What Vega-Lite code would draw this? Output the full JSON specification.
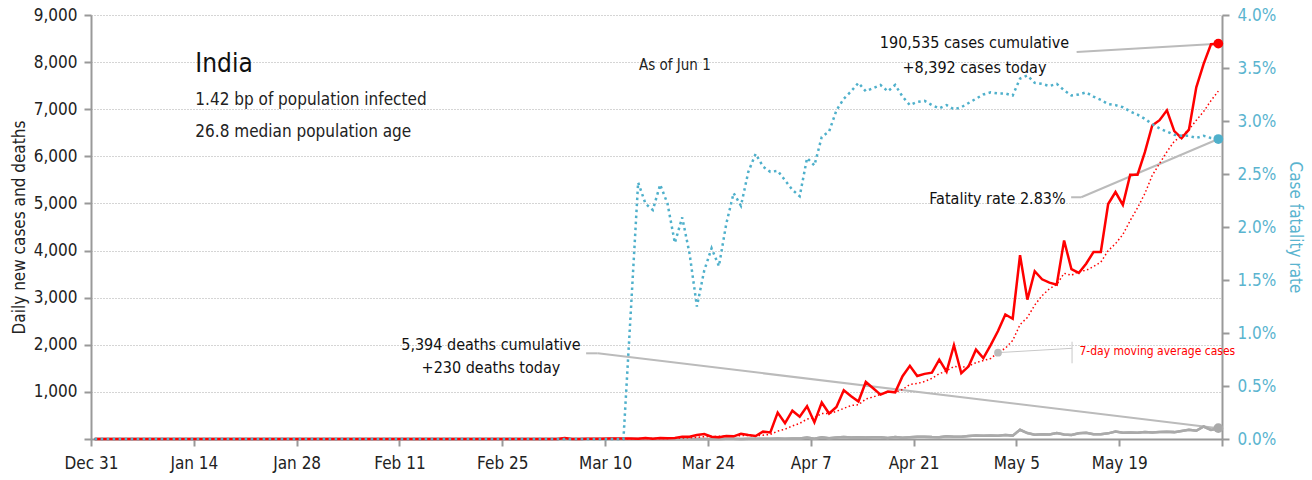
{
"$schema": "https://vega.github.io/schema/vega-lite/v6.json",
"width": 1131, "height": 424,
"autosize": {"type": "none"},
"padding": {"left": 91, "top": 15, "right": 90, "bottom": 41},
"background": "#ffffff",
"config": {
  "font": "DejaVu Sans Condensed, Roboto Condensed, Roboto, sans-serif",
  "view": {"stroke": null},
  "axis": {"domainColor": "#999999", "domainWidth": 2, "tickColor": "#999999", "tickWidth": 2, "tickSize": 7,
           "labelFontSize": 17, "labelColor": "#222222", "titleFontWeight": "normal", "grid": false}
},
"data": {"format": {"parse": {"d": "date"}}, "values": [
{"d":"2019-12-31 12:00","c":0,"a":0,"k":0,"r":0},
{"d":"2020-01-01 12:00","c":0,"a":0,"k":0,"r":0},
{"d":"2020-01-02 12:00","c":0,"a":0,"k":0,"r":0},
{"d":"2020-01-03 12:00","c":0,"a":0,"k":0,"r":0},
{"d":"2020-01-04 12:00","c":0,"a":0,"k":0,"r":0},
{"d":"2020-01-05 12:00","c":0,"a":0,"k":0,"r":0},
{"d":"2020-01-06 12:00","c":0,"a":0,"k":0,"r":0},
{"d":"2020-01-07 12:00","c":0,"a":0,"k":0,"r":0},
{"d":"2020-01-08 12:00","c":0,"a":0,"k":0,"r":0},
{"d":"2020-01-09 12:00","c":0,"a":0,"k":0,"r":0},
{"d":"2020-01-10 12:00","c":0,"a":0,"k":0,"r":0},
{"d":"2020-01-11 12:00","c":0,"a":0,"k":0,"r":0},
{"d":"2020-01-12 12:00","c":0,"a":0,"k":0,"r":0},
{"d":"2020-01-13 12:00","c":0,"a":0,"k":0,"r":0},
{"d":"2020-01-14 12:00","c":0,"a":0,"k":0,"r":0},
{"d":"2020-01-15 12:00","c":0,"a":0,"k":0,"r":0},
{"d":"2020-01-16 12:00","c":0,"a":0,"k":0,"r":0},
{"d":"2020-01-17 12:00","c":0,"a":0,"k":0,"r":0},
{"d":"2020-01-18 12:00","c":0,"a":0,"k":0,"r":0},
{"d":"2020-01-19 12:00","c":0,"a":0,"k":0,"r":0},
{"d":"2020-01-20 12:00","c":0,"a":0,"k":0,"r":0},
{"d":"2020-01-21 12:00","c":0,"a":0,"k":0,"r":0},
{"d":"2020-01-22 12:00","c":0,"a":0,"k":0,"r":0},
{"d":"2020-01-23 12:00","c":0,"a":0,"k":0,"r":0},
{"d":"2020-01-24 12:00","c":0,"a":0,"k":0,"r":0},
{"d":"2020-01-25 12:00","c":0,"a":0,"k":0,"r":0},
{"d":"2020-01-26 12:00","c":0,"a":0,"k":0,"r":0},
{"d":"2020-01-27 12:00","c":0,"a":0,"k":0,"r":0},
{"d":"2020-01-28 12:00","c":0,"a":0,"k":0,"r":0},
{"d":"2020-01-29 12:00","c":0,"a":0,"k":0,"r":0},
{"d":"2020-01-30 12:00","c":1,"a":0.1,"k":0,"r":0},
{"d":"2020-01-31 12:00","c":0,"a":0.1,"k":0,"r":0},
{"d":"2020-02-01 12:00","c":0,"a":0.1,"k":0,"r":0},
{"d":"2020-02-02 12:00","c":1,"a":0.3,"k":0,"r":0},
{"d":"2020-02-03 12:00","c":1,"a":0.4,"k":0,"r":0},
{"d":"2020-02-04 12:00","c":0,"a":0.4,"k":0,"r":0},
{"d":"2020-02-05 12:00","c":0,"a":0.4,"k":0,"r":0},
{"d":"2020-02-06 12:00","c":0,"a":0.3,"k":0,"r":0},
{"d":"2020-02-07 12:00","c":0,"a":0.3,"k":0,"r":0},
{"d":"2020-02-08 12:00","c":0,"a":0.3,"k":0,"r":0},
{"d":"2020-02-09 12:00","c":0,"a":0.1,"k":0,"r":0},
{"d":"2020-02-10 12:00","c":0,"a":0,"k":0,"r":0},
{"d":"2020-02-11 12:00","c":0,"a":0,"k":0,"r":0},
{"d":"2020-02-12 12:00","c":0,"a":0,"k":0,"r":0},
{"d":"2020-02-13 12:00","c":0,"a":0,"k":0,"r":0},
{"d":"2020-02-14 12:00","c":0,"a":0,"k":0,"r":0},
{"d":"2020-02-15 12:00","c":0,"a":0,"k":0,"r":0},
{"d":"2020-02-16 12:00","c":0,"a":0,"k":0,"r":0},
{"d":"2020-02-17 12:00","c":0,"a":0,"k":0,"r":0},
{"d":"2020-02-18 12:00","c":0,"a":0,"k":0,"r":0},
{"d":"2020-02-19 12:00","c":0,"a":0,"k":0,"r":0},
{"d":"2020-02-20 12:00","c":0,"a":0,"k":0,"r":0},
{"d":"2020-02-21 12:00","c":0,"a":0,"k":0,"r":0},
{"d":"2020-02-22 12:00","c":0,"a":0,"k":0,"r":0},
{"d":"2020-02-23 12:00","c":0,"a":0,"k":0,"r":0},
{"d":"2020-02-24 12:00","c":0,"a":0,"k":0,"r":0},
{"d":"2020-02-25 12:00","c":0,"a":0,"k":0,"r":0},
{"d":"2020-02-26 12:00","c":0,"a":0,"k":0,"r":0},
{"d":"2020-02-27 12:00","c":0,"a":0,"k":0,"r":0},
{"d":"2020-02-28 12:00","c":0,"a":0,"k":0,"r":0},
{"d":"2020-02-29 12:00","c":0,"a":0,"k":0,"r":0},
{"d":"2020-03-01 12:00","c":0,"a":0,"k":0,"r":0},
{"d":"2020-03-02 12:00","c":2,"a":0.3,"k":0,"r":0},
{"d":"2020-03-03 12:00","c":1,"a":0.4,"k":0,"r":0},
{"d":"2020-03-04 12:00","c":22,"a":3.6,"k":0,"r":0},
{"d":"2020-03-05 12:00","c":1,"a":3.7,"k":0,"r":0},
{"d":"2020-03-06 12:00","c":1,"a":3.9,"k":0,"r":0},
{"d":"2020-03-07 12:00","c":3,"a":4.3,"k":0,"r":0},
{"d":"2020-03-08 12:00","c":5,"a":5.0,"k":0,"r":0},
{"d":"2020-03-09 12:00","c":4,"a":5.3,"k":0,"r":0},
{"d":"2020-03-10 12:00","c":10,"a":6.6,"k":0,"r":0},
{"d":"2020-03-11 12:00","c":12,"a":5.1,"k":0,"r":0},
{"d":"2020-03-12 12:00","c":11,"a":6.6,"k":0,"r":0},
{"d":"2020-03-13 12:00","c":8,"a":7.6,"k":1,"r":1.2},
{"d":"2020-03-14 12:00","c":3,"a":7.6,"k":1,"r":2.42},
{"d":"2020-03-15 12:00","c":23,"a":10.1,"k":0,"r":2.22},
{"d":"2020-03-16 12:00","c":7,"a":10.6,"k":0,"r":2.16},
{"d":"2020-03-17 12:00","c":23,"a":12.4,"k":1,"r":2.40},
{"d":"2020-03-18 12:00","c":14,"a":12.7,"k":0,"r":2.22},
{"d":"2020-03-19 12:00","c":22,"a":14.3,"k":1,"r":1.85},
{"d":"2020-03-20 12:00","c":50,"a":20.3,"k":1,"r":2.09},
{"d":"2020-03-21 12:00","c":49,"a":26.9,"k":0,"r":1.75},
{"d":"2020-03-22 12:00","c":85,"a":35.7,"k":2,"r":1.25},
{"d":"2020-03-23 12:00","c":106,"a":49.9,"k":2,"r":1.59},
{"d":"2020-03-24 12:00","c":49,"a":53.6,"k":1,"r":1.80},
{"d":"2020-03-25 12:00","c":35,"a":56.6,"k":1,"r":1.63},
{"d":"2020-03-26 12:00","c":64,"a":62.6,"k":5,"r":2.03},
{"d":"2020-03-27 12:00","c":57,"a":63.6,"k":3,"r":2.32},
{"d":"2020-03-28 12:00","c":110,"a":72.3,"k":1,"r":2.20},
{"d":"2020-03-29 12:00","c":85,"a":72.3,"k":6,"r":2.52},
{"d":"2020-03-30 12:00","c":64,"a":66.3,"k":4,"r":2.69},
{"d":"2020-03-31 12:00","c":156,"a":81.6,"k":3,"r":2.57},
{"d":"2020-04-01 12:00","c":140,"a":96.6,"k":6,"r":2.52},
{"d":"2020-04-02 12:00","c":560,"a":167.4,"k":12,"r":2.53},
{"d":"2020-04-03 12:00","c":336,"a":207.3,"k":6,"r":2.44},
{"d":"2020-04-04 12:00","c":601,"a":277.4,"k":12,"r":2.35},
{"d":"2020-04-05 12:00","c":472,"a":332.7,"k":9,"r":2.29},
{"d":"2020-04-06 12:00","c":693,"a":422.6,"k":32,"r":2.65},
{"d":"2020-04-07 12:00","c":354,"a":450.9,"k":5,"r":2.58},
{"d":"2020-04-08 12:00","c":773,"a":541.3,"k":35,"r":2.85},
{"d":"2020-04-09 12:00","c":540,"a":538.4,"k":17,"r":2.90},
{"d":"2020-04-10 12:00","c":678,"a":587.3,"k":33,"r":3.10},
{"d":"2020-04-11 12:00","c":1035,"a":649.3,"k":40,"r":3.21},
{"d":"2020-04-12 12:00","c":909,"a":711.7,"k":34,"r":3.28},
{"d":"2020-04-13 12:00","c":796,"a":726.4,"k":35,"r":3.36},
{"d":"2020-04-14 12:00","c":1211,"a":848.9,"k":31,"r":3.28},
{"d":"2020-04-15 12:00","c":1076,"a":892.1,"k":38,"r":3.31},
{"d":"2020-04-16 12:00","c":941,"a":949.4,"k":37,"r":3.34},
{"d":"2020-04-17 12:00","c":1007,"a":996.4,"k":23,"r":3.28},
{"d":"2020-04-18 12:00","c":991,"a":990.1,"k":43,"r":3.34},
{"d":"2020-04-19 12:00","c":1334,"a":1050.9,"k":27,"r":3.23},
{"d":"2020-04-20 12:00","c":1553,"a":1159.0,"k":36,"r":3.15},
{"d":"2020-04-21 12:00","c":1336,"a":1176.9,"k":47,"r":3.18},
{"d":"2020-04-22 12:00","c":1383,"a":1220.7,"k":50,"r":3.19},
{"d":"2020-04-23 12:00","c":1409,"a":1287.6,"k":41,"r":3.15},
{"d":"2020-04-24 12:00","c":1684,"a":1384.3,"k":37,"r":3.12},
{"d":"2020-04-25 12:00","c":1429,"a":1446.9,"k":57,"r":3.15},
{"d":"2020-04-26 12:00","c":1990,"a":1540.6,"k":49,"r":3.11},
{"d":"2020-04-27 12:00","c":1396,"a":1518.1,"k":48,"r":3.13},
{"d":"2020-04-28 12:00","c":1543,"a":1547.7,"k":62,"r":3.17},
{"d":"2020-04-29 12:00","c":1897,"a":1621.1,"k":73,"r":3.21},
{"d":"2020-04-30 12:00","c":1718,"a":1665.3,"k":67,"r":3.25},
{"d":"2020-05-01 12:00","c":1993,"a":1709.4,"k":73,"r":3.27},
{"d":"2020-05-02 12:00","c":2293,"a":1832.9,"k":71,"r":3.26},
{"d":"2020-05-03 12:00","c":2644,"a":1926.3,"k":83,"r":3.26},
{"d":"2020-05-04 12:00","c":2553,"a":2091.6,"k":72,"r":3.24},
{"d":"2020-05-05 12:00","c":3900,"a":2428.3,"k":195,"r":3.40},
{"d":"2020-05-06 12:00","c":2958,"a":2579.9,"k":126,"r":3.43},
{"d":"2020-05-07 12:00","c":3561,"a":2843.1,"k":89,"r":3.36},
{"d":"2020-05-08 12:00","c":3390,"a":3042.7,"k":103,"r":3.35},
{"d":"2020-05-09 12:00","c":3320,"a":3189.4,"k":95,"r":3.33},
{"d":"2020-05-10 12:00","c":3277,"a":3279.9,"k":128,"r":3.35},
{"d":"2020-05-11 12:00","c":4213,"a":3517.0,"k":97,"r":3.29},
{"d":"2020-05-12 12:00","c":3604,"a":3474.7,"k":87,"r":3.24},
{"d":"2020-05-13 12:00","c":3525,"a":3555.7,"k":122,"r":3.25},
{"d":"2020-05-14 12:00","c":3722,"a":3578.7,"k":134,"r":3.27},
{"d":"2020-05-15 12:00","c":3967,"a":3661.1,"k":100,"r":3.23},
{"d":"2020-05-16 12:00","c":3970,"a":3754.0,"k":103,"r":3.20},
{"d":"2020-05-17 12:00","c":4987,"a":3998.3,"k":120,"r":3.16},
{"d":"2020-05-18 12:00","c":5242,"a":4145.3,"k":157,"r":3.15},
{"d":"2020-05-19 12:00","c":4970,"a":4340.4,"k":134,"r":3.13},
{"d":"2020-05-20 12:00","c":5611,"a":4638.4,"k":140,"r":3.09},
{"d":"2020-05-21 12:00","c":5609,"a":4908.0,"k":132,"r":3.06},
{"d":"2020-05-22 12:00","c":6088,"a":5211.0,"k":148,"r":3.02},
{"d":"2020-05-23 12:00","c":6654,"a":5594.4,"k":137,"r":2.97},
{"d":"2020-05-24 12:00","c":6767,"a":5848.7,"k":147,"r":2.93},
{"d":"2020-05-25 12:00","c":6977,"a":6096.6,"k":154,"r":2.90},
{"d":"2020-05-26 12:00","c":6535,"a":6320.1,"k":146,"r":2.87},
{"d":"2020-05-27 12:00","c":6387,"a":6431.0,"k":170,"r":2.86},
{"d":"2020-05-28 12:00","c":6566,"a":6567.7,"k":194,"r":2.86},
{"d":"2020-05-29 12:00","c":7466,"a":6764.6,"k":175,"r":2.84},
{"d":"2020-05-30 12:00","c":7964,"a":6951.7,"k":265,"r":2.86},
{"d":"2020-05-31 12:00","c":8380,"a":7182.1,"k":193,"r":2.84},
{"d":"2020-06-01 12:00","c":8392,"a":7384.3,"k":230,"r":2.83}
]},
"layer": [
 {"layer": [
  {"mark": {"type": "line", "color": "#aaaaaa", "strokeWidth": 2.5},
   "encoding": {
     "x": {"field": "d", "type": "temporal",
           "scale": {"domain": [{"year": 2019, "month": 12, "date": 31}, {"year": 2020, "month": 6, "date": 2}]},
           "axis": {"title": null, "format": "%b %-d", "labelFlush": false, "labelOverlap": false, "labelPadding": 9,
                    "labelExpr": "month(datum.value) == 5 ? '' : datum.label",
                    "values": [{"year": 2019, "month": 12, "date": 31}, {"year": 2020, "month": 1, "date": 14},
                               {"year": 2020, "month": 1, "date": 28}, {"year": 2020, "month": 2, "date": 11},
                               {"year": 2020, "month": 2, "date": 25}, {"year": 2020, "month": 3, "date": 10},
                               {"year": 2020, "month": 3, "date": 24}, {"year": 2020, "month": 4, "date": 7},
                               {"year": 2020, "month": 4, "date": 21}, {"year": 2020, "month": 5, "date": 5},
                               {"year": 2020, "month": 5, "date": 19}, {"year": 2020, "month": 6, "date": 2}]}},
     "y": {"field": "k", "type": "quantitative",
           "scale": {"domain": [0, 9000], "nice": false},
           "axis": {"title": "Daily new cases and deaths", "titleFontSize": 17, "titleColor": "#222222", "titlePadding": 5,
                    "values": [0, 1000, 2000, 3000, 4000, 5000, 6000, 7000, 8000, 9000],
                    "labelExpr": "datum.value == 0 ? '' : format(datum.value, ',')",
                    "labelPadding": 7, "grid": true, "gridColor": "#aaaaaa", "gridDash": [1, 2], "gridWidth": 1}}}},
  {"data": {"values": [{}]},
   "mark": {"type": "rule", "color": "#bbbbbb", "strokeWidth": 2},
   "encoding": {
     "x": {"datum": {"year": 2020, "month": 5, "date": 12, "hours": 11}, "type": "temporal"},
     "x2": {"datum": {"year": 2020, "month": 5, "date": 13, "hours": 20}},
     "y": {"datum": 5131, "type": "quantitative"},
     "y2": {"datum": 5131}}},
  {"data": {"values": [{}]},
   "mark": {"type": "rule", "color": "#bbbbbb", "strokeWidth": 2},
   "encoding": {
     "x": {"datum": {"year": 2020, "month": 5, "date": 13, "hours": 20}, "type": "temporal"},
     "x2": {"datum": {"year": 2020, "month": 6, "date": 1, "hours": 12}},
     "y": {"datum": 5131, "type": "quantitative"},
     "y2": {"datum": 6367}}},
  {"data": {"values": [{}]},
   "mark": {"type": "rule", "color": "#bbbbbb", "strokeWidth": 2},
   "encoding": {
     "x": {"datum": {"year": 2020, "month": 3, "date": 7, "hours": 10}, "type": "temporal"},
     "x2": {"datum": {"year": 2020, "month": 3, "date": 9, "hours": 0}},
     "y": {"datum": 1819, "type": "quantitative"},
     "y2": {"datum": 1819}}},
  {"data": {"values": [{}]},
   "mark": {"type": "rule", "color": "#bbbbbb", "strokeWidth": 2},
   "encoding": {
     "x": {"datum": {"year": 2020, "month": 3, "date": 9, "hours": 0}, "type": "temporal"},
     "x2": {"datum": {"year": 2020, "month": 6, "date": 1, "hours": 12}},
     "y": {"datum": 1819, "type": "quantitative"},
     "y2": {"datum": 230}}},
  {"data": {"values": [{}]},
   "mark": {"type": "rule", "color": "#bbbbbb", "strokeWidth": 2},
   "encoding": {
     "x": {"datum": {"year": 2020, "month": 5, "date": 13, "hours": 5}, "type": "temporal"},
     "x2": {"datum": {"year": 2020, "month": 6, "date": 1, "hours": 12}},
     "y": {"datum": 8215, "type": "quantitative"},
     "y2": {"datum": 8392}}},
  {"data": {"values": [{}]},
   "mark": {"type": "rule", "color": "#c8c8c8", "strokeWidth": 1},
   "encoding": {
     "x": {"datum": {"year": 2020, "month": 5, "date": 2, "hours": 12}, "type": "temporal"},
     "x2": {"datum": {"year": 2020, "month": 5, "date": 12, "hours": 14}},
     "y": {"datum": 1833, "type": "quantitative"},
     "y2": {"datum": 1925}}},
  {"data": {"values": [{}]},
   "mark": {"type": "rule", "color": "#c8c8c8", "strokeWidth": 1},
   "encoding": {
     "x": {"datum": {"year": 2020, "month": 5, "date": 12, "hours": 14}, "type": "temporal"},
     "y": {"datum": 2065, "type": "quantitative"},
     "y2": {"datum": 1607}}},
  {"mark": {"type": "line", "color": "#aaaaaa", "strokeWidth": 2.5},
   "encoding": {
     "x": {"field": "d", "type": "temporal"},
     "y": {"field": "k", "type": "quantitative"}}},
  {"mark": {"type": "line", "color": "#ff0000", "strokeWidth": 1.5, "strokeDash": [1.5, 2.5]},
   "encoding": {
     "x": {"field": "d", "type": "temporal"},
     "y": {"field": "a", "type": "quantitative"}}},
  {"mark": {"type": "line", "color": "#ff0000", "strokeWidth": 2.5},
   "encoding": {
     "x": {"field": "d", "type": "temporal"},
     "y": {"field": "c", "type": "quantitative"}}},
  {"transform": [{"filter": "month(datum.d) == 4 && date(datum.d) == 2"}],
   "mark": {"type": "circle", "color": "#bbbbbb", "opacity": 1, "size": 60},
   "encoding": {
     "x": {"field": "d", "type": "temporal"},
     "y": {"field": "a", "type": "quantitative"}}},
  {"transform": [{"filter": "month(datum.d) == 5 && date(datum.d) == 1"}],
   "mark": {"type": "circle", "color": "#aaaaaa", "opacity": 1, "size": 95},
   "encoding": {
     "x": {"field": "d", "type": "temporal"},
     "y": {"field": "k", "type": "quantitative"}}},
  {"transform": [{"filter": "month(datum.d) == 5 && date(datum.d) == 1"}],
   "mark": {"type": "circle", "color": "#ff0000", "opacity": 1, "size": 95},
   "encoding": {
     "x": {"field": "d", "type": "temporal"},
     "y": {"field": "c", "type": "quantitative"}}},
  {"data": {"values": [{}]},
   "mark": {"type": "text", "text": "India", "fontSize": 26, "align": "left", "baseline": "alphabetic", "color": "#111111"},
   "encoding": {"x": {"datum": {"year": 2020, "month": 1, "date": 14, "hours": 5}, "type": "temporal"},
                "y": {"datum": 7800, "type": "quantitative"}}},
  {"data": {"values": [{}]},
   "mark": {"type": "text", "text": "1.42 bp of population infected", "fontSize": 17, "align": "left", "baseline": "alphabetic", "color": "#222222"},
   "encoding": {"x": {"datum": {"year": 2020, "month": 1, "date": 14, "hours": 5}, "type": "temporal"},
                "y": {"datum": 7090, "type": "quantitative"}}},
  {"data": {"values": [{}]},
   "mark": {"type": "text", "text": "26.8 median population age", "fontSize": 17, "align": "left", "baseline": "alphabetic", "color": "#222222"},
   "encoding": {"x": {"datum": {"year": 2020, "month": 1, "date": 14, "hours": 5}, "type": "temporal"},
                "y": {"datum": 6420, "type": "quantitative"}}},
  {"data": {"values": [{}]},
   "mark": {"type": "text", "text": "As of Jun 1", "fontSize": 15, "align": "center", "baseline": "alphabetic", "color": "#222222"},
   "encoding": {"x": {"datum": {"year": 2020, "month": 3, "date": 19, "hours": 12}, "type": "temporal"},
                "y": {"datum": 7830, "type": "quantitative"}}},
  {"data": {"values": [{}]},
   "mark": {"type": "text", "text": "190,535 cases cumulative", "fontSize": 16, "align": "center", "baseline": "alphabetic", "color": "#111111"},
   "encoding": {"x": {"datum": {"year": 2020, "month": 4, "date": 29, "hours": 7}, "type": "temporal"},
                "y": {"datum": 8293, "type": "quantitative"}}},
  {"data": {"values": [{}]},
   "mark": {"type": "text", "text": "+8,392 cases today", "fontSize": 16, "align": "center", "baseline": "alphabetic", "color": "#111111"},
   "encoding": {"x": {"datum": {"year": 2020, "month": 4, "date": 29, "hours": 7}, "type": "temporal"},
                "y": {"datum": 7776, "type": "quantitative"}}},
  {"data": {"values": [{}]},
   "mark": {"type": "text", "text": "Fatality rate 2.83%", "fontSize": 16, "align": "right", "baseline": "alphabetic", "color": "#111111"},
   "encoding": {"x": {"datum": {"year": 2020, "month": 5, "date": 11, "hours": 17}, "type": "temporal"},
                "y": {"datum": 4978, "type": "quantitative"}}},
  {"data": {"values": [{}]},
   "mark": {"type": "text", "text": "5,394 deaths cumulative", "fontSize": 16, "align": "center", "baseline": "alphabetic", "color": "#111111"},
   "encoding": {"x": {"datum": {"year": 2020, "month": 2, "date": 23, "hours": 11}, "type": "temporal"},
                "y": {"datum": 1889, "type": "quantitative"}}},
  {"data": {"values": [{}]},
   "mark": {"type": "text", "text": "+230 deaths today", "fontSize": 16, "align": "center", "baseline": "alphabetic", "color": "#111111"},
   "encoding": {"x": {"datum": {"year": 2020, "month": 2, "date": 23, "hours": 11}, "type": "temporal"},
                "y": {"datum": 1394, "type": "quantitative"}}},
  {"data": {"values": [{}]},
   "mark": {"type": "text", "text": "7-day moving average cases", "fontSize": 12, "align": "left", "baseline": "alphabetic", "color": "#ff0000"},
   "encoding": {"x": {"datum": {"year": 2020, "month": 5, "date": 13, "hours": 14}, "type": "temporal"},
                "y": {"datum": 1783, "type": "quantitative"}}}
 ]},
 {"layer": [
  {"mark": {"type": "line", "color": "#4fb0cb", "strokeWidth": 2.5, "strokeDash": [2.5, 3.5]},
   "encoding": {
     "x": {"field": "d", "type": "temporal"},
     "y": {"field": "r", "type": "quantitative",
           "scale": {"domain": [0, 4], "nice": false},
           "axis": {"orient": "right", "title": "Case fatality rate", "titleColor": "#5ab4cf", "titleFontSize": 17, "titlePadding": 10,
                    "values": [0, 0.5, 1, 1.5, 2, 2.5, 3, 3.5, 4],
                    "labelExpr": "format(datum.value, '.1f') + '%'",
                    "labelColor": "#5ab4cf", "labelFontSize": 17, "labelPadding": 8}}}},
  {"transform": [{"filter": "month(datum.d) == 5 && date(datum.d) == 1"}],
   "mark": {"type": "circle", "color": "#4fb0cb", "opacity": 1, "size": 95},
   "encoding": {
     "x": {"field": "d", "type": "temporal"},
     "y": {"field": "r", "type": "quantitative"}}}
 ]}
],
"resolve": {"scale": {"y": "independent"}}
}
